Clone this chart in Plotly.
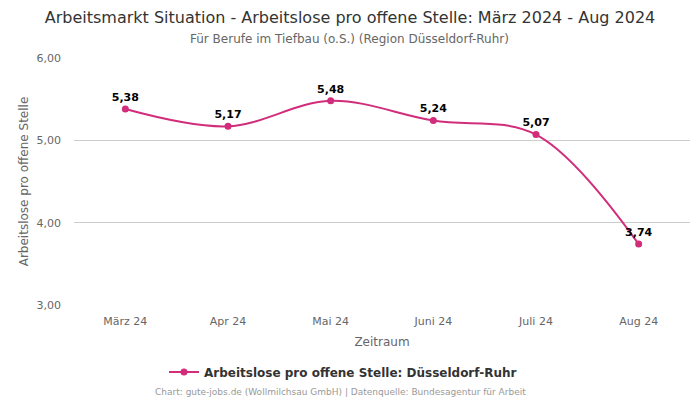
import plotly.graph_objects as go

months = ["März 24", "Apr 24", "Mai 24", "Juni 24", "Juli 24", "Aug 24"]
values = [5.38, 5.17, 5.48, 5.24, 5.07, 3.74]
labels = ["5,38", "5,17", "5,48", "5,24", "5,07", "3,74"]
series_name = "Arbeitslose pro offene Stelle: Düsseldorf-Ruhr"
color = "#d12d7b"
font = "DejaVu Sans"

# the page body has an 8px margin, so the figure is 692x392 and offset by 8px
OFF = 8
W, HT = 700 - OFF, 400 - OFF
L, R, T, B = 74 - OFF, 10, 58 - OFF, 95
PH = HT - T - B
PW = W - L - R

def px(xref_pix):
    return (xref_pix - 74) / PW

def py(yref_pix):
    return (305 - yref_pix) / PH

fig = go.Figure()
fig.add_trace(go.Scatter(
    x=months, y=values, mode="lines+markers+text", name=series_name,
    line=dict(color=color, width=2, shape="spline", smoothing=1.0),
    marker=dict(color=color, size=7),
    text=labels, textposition="top center",
    textfont=dict(family=font, size=11, color="#000000", weight="bold"),
    cliponaxis=False,
))

fig.update_layout(
    width=W, height=HT,
    margin=dict(l=L, r=R, t=T, b=B, autoexpand=False),
    paper_bgcolor="white", plot_bgcolor="white",
    separators=",.",
    font=dict(family=font, color="#666666", size=11),
    title=dict(
        text="Arbeitsmarkt Situation - Arbeitslose pro offene Stelle: März 2024 - Aug 2024",
        x=(350 - OFF) / W, xanchor="center", xref="container",
        y=1 - (17 - OFF) / HT, yanchor="middle", yref="container",
        font=dict(family=font, size=16, color="#333333"),
    ),
    xaxis=dict(
        type="category", range=[-0.5, 5.5], showgrid=False, zeroline=False,
        showline=False, ticks="", ticklen=0, ticklabelstandoff=8,
        tickfont=dict(size=11, color="#666666"),
        automargin=False,
        title=dict(text="Zeitraum", font=dict(size=12, color="#666666"), standoff=10),
    ),
    yaxis=dict(
        range=[3, 6], tickvals=[3, 4, 5, 6], tickformat=".2f",
        showgrid=True, gridcolor="#cccccc", gridwidth=1, zeroline=False,
        showline=False, ticks="", ticklen=0, ticklabelstandoff=12,
        tickfont=dict(size=11, color="#666666"),
        automargin=False,
        title=dict(text="Arbeitslose pro offene Stelle", font=dict(size=12, color="#666666"), standoff=5),
    ),
    showlegend=True,
    legend=dict(
        orientation="h", x=(343 - OFF) / W, xanchor="center", xref="container",
        y=1 - (372 - OFF) / HT, yanchor="middle", yref="container",
        itemwidth=30,
        font=dict(family=font, size=12, color="#333333", weight="bold"),
    ),
    annotations=[
        dict(
            text="Für Berufe im Tiefbau (o.S.) (Region Düsseldorf-Ruhr)",
            xref="paper", yref="paper", x=px(349), xanchor="center",
            y=py(39), yanchor="middle", showarrow=False,
            font=dict(family=font, size=12, color="#666666"),
        ),
        dict(
            text="Chart: gute-jobs.de (Wollmilchsau GmbH) | Datenquelle: Bundesagentur für Arbeit",
            xref="paper", yref="paper", x=px(340), xanchor="center",
            y=py(392), yanchor="middle", showarrow=False,
            font=dict(family=font, size=9, color="#999999"),
        ),
    ],
)

fig.write_html("out.html")
